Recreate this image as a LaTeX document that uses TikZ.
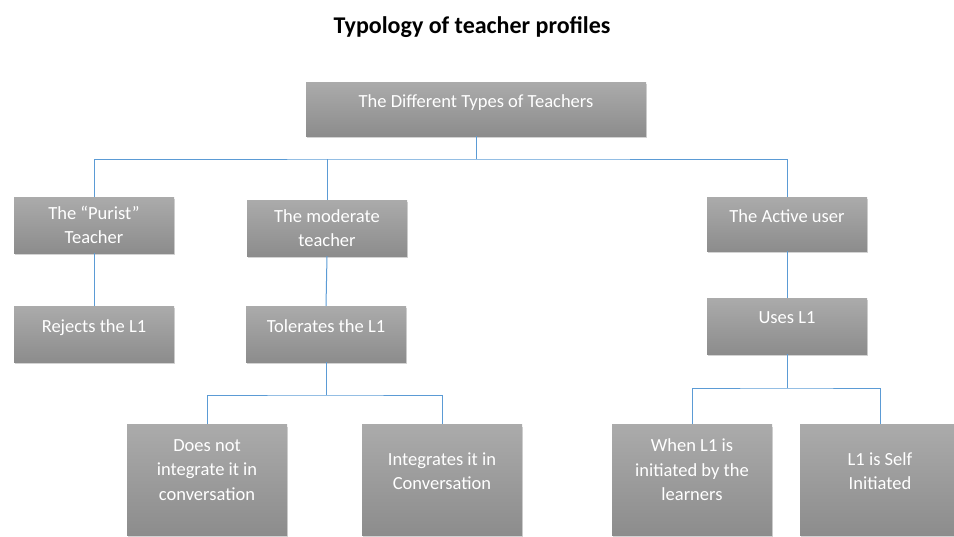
\documentclass[tikz,border=0pt]{standalone}
\usepackage{fontspec}
\setmainfont{Carlito}
\usetikzlibrary{shadows}

\definecolor{linkblue}{HTML}{5B9BD5}

\tikzset{
  box/.style={rectangle, top color=black!33, bottom color=black!45, draw=none,
    text=white, align=center, minimum width=160, minimum height=56,
    inner sep=2pt, font={\fontsize{18.5}{24.5}\selectfont},
    drop shadow={opacity=0.35, shadow xshift=1pt, shadow yshift=-2pt}},
  oneline/.style={text depth=16pt},
  link/.style={linkblue, line width=1pt}
}

\begin{document}
\begin{tikzpicture}[x=1pt, y=-1pt]
  \clip (0,0) rectangle (954,536);

  % Add title
  \node[font={\bfseries\fontsize{24}{28}\selectfont}] (title) at (472,27) {Typology of teacher profiles};

  % Add boxes
  \node[box, oneline, minimum width=340, minimum height=54] (root) at (476,109) {The Different Types of Teachers};

  \node[box] (purist) at (94,225) {The ``Purist''\\Teacher};
  \node[box] (moderate) at (327,228) {The moderate\\teacher};
  \node[box, oneline, minimum height=54] (active) at (787,224) {The Active user};

  \node[box, oneline] (rejects) at (94,334) {Rejects the L1};
  \node[box, oneline] (tolerates) at (326,334) {Tolerates the L1};
  \node[box, oneline] (uses) at (787,326) {Uses L1};

  \node[box, minimum height=111, text depth=20pt] (notint) at (207,480) {Does not\\integrate it in\\conversation};
  \node[box, minimum height=111, text depth=18pt] (integ) at (442,480) {Integrates it in\\Conversation};
  \node[box, minimum height=111, text depth=20pt] (learners) at (692,480) {When L1 is\\initiated by the\\learners};
  \node[box, minimum height=111, text depth=18pt] (selfinit) at (880,480) {L1 is Self\\Initiated};

  % Add connectors
  \coordinate (topbus) at (476,159);
  \draw[link] (root.south) -- (topbus);
  \draw[link] (purist.north) |- (topbus) -| (active.north);
  \draw[link] (moderate.north) -- (moderate.north |- topbus);

  \draw[link] (purist) -- (rejects);
  \draw[link] (moderate.south) -- (tolerates.north);
  \draw[link] (active) -- (uses);

  \coordinate (midbus) at (326,395);
  \draw[link] (tolerates.south) -- (midbus);
  \draw[link] (notint.north) |- (midbus) -| (integ.north);

  \coordinate (rightbus) at (787,388);
  \draw[link] (uses.south) -- (rightbus);
  \draw[link] (learners.north) |- (rightbus) -| (selfinit.north);
\end{tikzpicture}
\end{document}
